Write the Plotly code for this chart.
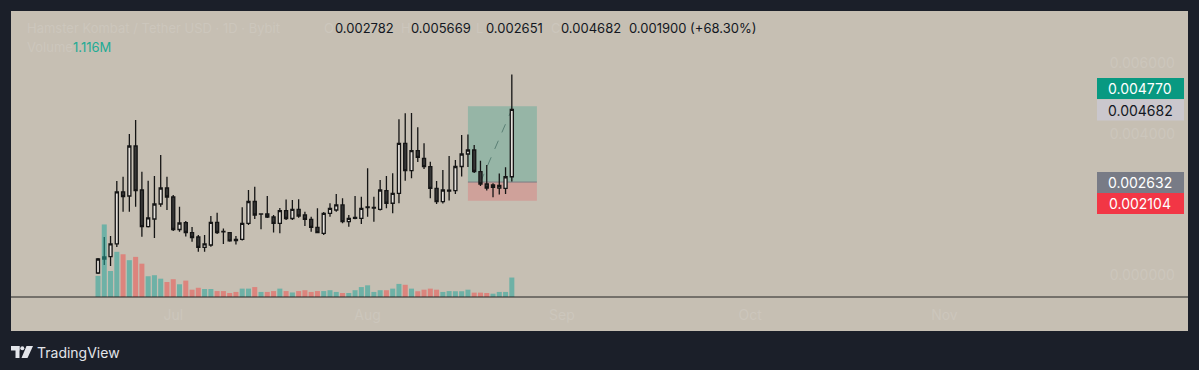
import pandas as pd
import plotly.graph_objects as go

# ---------------- data ----------------
dates = pd.date_range("2024-06-19", periods=67, freq="D")

open_ = [0.000065, 0.000460, 0.000525, 0.000884, 0.002352, 0.002239, 0.003650, 0.002408, 0.001372, 0.001589,
         0.002013, 0.002464, 0.002210, 0.001293, 0.001485, 0.001203, 0.001081, 0.000790, 0.000855, 0.001496,
         0.001236, 0.001203, 0.001011, 0.001016, 0.001468, 0.002083, 0.001730, 0.001730, 0.001646, 0.001468,
         0.001824, 0.001603, 0.001863, 0.001702, 0.001581, 0.001355, 0.001186, 0.001750, 0.001843, 0.001985,
         0.001513, 0.001609, 0.001609, 0.001914, 0.001900, 0.001863, 0.002388, 0.002033, 0.002315, 0.003726,
         0.002953, 0.003517, 0.003303, 0.003066, 0.002456, 0.002078, 0.002380, 0.002388, 0.003071, 0.003424,
         0.003537, 0.002925, 0.002577, 0.002479, 0.002464, 0.002456, 0.002782]
high = [0.000488, 0.001081, 0.001109, 0.002662, 0.002783, 0.003989, 0.004384, 0.002925, 0.002671, 0.002803,
        0.003396, 0.002783, 0.002267, 0.001937, 0.001533, 0.001364, 0.001138, 0.001138, 0.001674, 0.001767,
        0.001321, 0.001222, 0.001109, 0.001920, 0.002408, 0.002501, 0.001750, 0.002239, 0.001702, 0.001900,
        0.002140, 0.002126, 0.002145, 0.001795, 0.001654, 0.001891, 0.001787, 0.002033, 0.002295, 0.002174,
        0.001702, 0.002239, 0.002219, 0.003021, 0.002219, 0.002690, 0.002803, 0.002879, 0.004404, 0.004573,
        0.004582, 0.004178, 0.003726, 0.003207, 0.002662, 0.002973, 0.003368, 0.003255, 0.003961, 0.003975,
        0.003678, 0.003235, 0.003114, 0.002597, 0.002874, 0.003049, 0.005669]
low = [0.000037, 0.000291, 0.000263, 0.000799, 0.001795, 0.001795, 0.001937, 0.001090, 0.001349, 0.001053,
       0.001937, 0.001843, 0.001251, 0.001231, 0.001095, 0.000949, 0.000666, 0.000666, 0.000807, 0.001166,
       0.000884, 0.000949, 0.000869, 0.000982, 0.001420, 0.001589, 0.001299, 0.001618, 0.001208, 0.001186,
       0.001561, 0.001561, 0.001626, 0.001392, 0.001231, 0.001186, 0.001138, 0.001654, 0.001795, 0.001468,
       0.001372, 0.001581, 0.001448, 0.001654, 0.001513, 0.001829, 0.001891, 0.001750, 0.002033, 0.002671,
       0.002738, 0.003198, 0.003001, 0.002174, 0.002013, 0.002027, 0.002112, 0.002295, 0.002789, 0.003057,
       0.002888, 0.002521, 0.002394, 0.002202, 0.002281, 0.002295, 0.002651]
close = [0.000460, 0.000517, 0.000884, 0.002352, 0.002219, 0.003650, 0.002388, 0.001372, 0.001618, 0.002013,
         0.002464, 0.002210, 0.001293, 0.001476, 0.001208, 0.001067, 0.000790, 0.000884, 0.001496, 0.001208,
         0.001228, 0.000974, 0.000982, 0.001468, 0.002083, 0.001702, 0.001735, 0.001646, 0.001468, 0.001824,
         0.001603, 0.001863, 0.001674, 0.001581, 0.001355, 0.001203, 0.001750, 0.001891, 0.001985, 0.001513,
         0.001609, 0.001632, 0.001891, 0.001928, 0.001914, 0.002408, 0.002033, 0.002315, 0.003726, 0.002953,
         0.003517, 0.003331, 0.003066, 0.002456, 0.002078, 0.002408, 0.002400, 0.003071, 0.003424, 0.003537,
         0.002930, 0.002577, 0.002464, 0.002549, 0.002541, 0.002782, 0.004682]
volume_m = [1.21, 4.16, 1.49, 2.59, 2.45, 2.11, 2.30, 1.91, 1.19, 1.25,
            1.05, 0.86, 1.02, 0.73, 0.94, 0.42, 0.53, 0.46, 0.46, 0.34,
            0.34, 0.23, 0.29, 0.48, 0.48, 0.57, 0.29, 0.29, 0.34, 0.48,
            0.34, 0.26, 0.34, 0.39, 0.29, 0.34, 0.34, 0.39, 0.29, 0.23,
            0.23, 0.39, 0.57, 0.67, 0.29, 0.39, 0.39, 0.48, 0.75, 0.70,
            0.48, 0.33, 0.42, 0.48, 0.42, 0.29, 0.34, 0.33, 0.33, 0.42,
            0.25, 0.25, 0.23, 0.19, 0.29, 0.29, 1.116]

month_ticks = ["2024-07-01", "2024-08-01", "2024-09-01", "2024-10-01", "2024-11-01"]
month_labels = ["Jul", "Aug", "Sep", "Oct", "Nov"]
price_ticks = [0.0, 0.004, 0.006]
price_labels = ["0.000000", "0.004000", "0.006000"]

target_price = 0.004770
entry_price = 0.002632
stop_price = 0.002104
position_start_idx = 59
position_days = 11
entry_idx = 61

title_text = "Hamster Kombat / Tether USD · 1D · Bybit"
legend_values = ["0.002782", "0.005669", "0.002651", "0.004682", "0.001900 (+68.30%)"]
volume_label = "1.116M"

# ---------------- style ----------------
W, H = 1199, 370
PL, PR, PT, PB = 11, 1097, 11, 297
BG = "#c6bfb3"
FRAME = "#1b1f29"
FADED = "#ccc6bc"
FONT = "Inter, Roboto, sans-serif"


def px(x):
    return (x - PL) / (PR - PL)


def py(y):
    return (PB - y) / (PB - PT)


fig = go.Figure()

vol_colors = ["rgba(38,166,154,0.55)" if c >= o else "rgba(239,83,80,0.55)" for o, c in zip(open_, close)]
fig.add_trace(go.Bar(x=dates, y=volume_m, marker=dict(color=vol_colors, line=dict(width=0)),
                     yaxis="y2", showlegend=False, hoverinfo="skip"))

fig.add_trace(go.Candlestick(
    x=dates, open=open_, high=high, low=low, close=close,
    increasing=dict(line=dict(color="#151515", width=1.3), fillcolor="#e4e0db"),
    decreasing=dict(line=dict(color="#151515", width=1.3), fillcolor="#353535"),
    whiskerwidth=0, showlegend=False, yaxis="y"))

x_lo = dates[0] + pd.Timedelta(days=(PL - 98) / 6.27)
x_hi = dates[0] + pd.Timedelta(days=(PR - 98) / 6.27)

pos_x0 = dates[position_start_idx]
pos_x1 = dates[position_start_idx] + pd.Timedelta(days=position_days)

shapes = [
    dict(type="rect", xref="paper", yref="paper", x0=px(11), x1=px(1188), y0=py(331), y1=py(11),
         fillcolor=BG, line=dict(width=0), layer="below"),
    dict(type="rect", xref="x", yref="y", x0=pos_x0, x1=pos_x1, y0=entry_price, y1=target_price,
         fillcolor="rgba(8,153,129,0.25)", line=dict(width=0), layer="below"),
    dict(type="rect", xref="x", yref="y", x0=pos_x0, x1=pos_x1, y0=stop_price, y1=entry_price,
         fillcolor="rgba(242,54,69,0.22)", line=dict(width=0), layer="below"),
    dict(type="line", xref="x", yref="y", x0=pos_x0, x1=pos_x1, y0=entry_price, y1=entry_price,
         line=dict(color="#7c7c84", width=1), layer="below"),
    dict(type="line", xref="x", yref="y", x0=dates[entry_idx], x1=dates[-1], y0=entry_price, y1=close[-1],
         line=dict(color="rgba(70,110,100,0.75)", width=1, dash="dash"), layer="below"),
    dict(type="line", xref="paper", yref="paper", x0=px(11), x1=px(1188), y0=0, y1=0,
         line=dict(color="#222222", width=1), layer="above"),
]

annotations = []

# price tags on the right
tags = [
    (f"{target_price:.6f}", "#089981", "#ffffff", 88.5),
    (f"{close[-1]:.6f}", "#cac7cd", "#131722", 110),
    (f"{entry_price:.6f}", "#787b86", "#ffffff", 182.5),
    (f"{stop_price:.6f}", "#f23645", "#ffffff", 203.5),
]
for text, bg, fg, yc in tags:
    shapes.append(dict(type="rect", xref="paper", yref="paper", x0=px(1097), x1=px(1184),
                       y0=py(yc + 10.5), y1=py(yc - 10.5), fillcolor=bg, line=dict(width=0), layer="above"))
    annotations.append(dict(xref="paper", yref="paper", x=px(1140), y=py(yc), text=text, showarrow=False,
                            xanchor="center", yanchor="middle", borderpad=0,
                            font=dict(family=FONT, size=14, color=fg)))

# legend texts at the top
annotations.append(dict(xref="paper", yref="paper", x=px(25), y=py(28), text=title_text, showarrow=False,
                        xanchor="left", yanchor="middle", font=dict(family=FONT, size=13, color=FADED)))
annotations.append(dict(xref="paper", yref="paper", x=px(25), y=py(46.5), text="Volume", showarrow=False,
                        xanchor="left", yanchor="middle", font=dict(family=FONT, size=13, color=FADED)))
annotations.append(dict(xref="paper", yref="paper", x=px(71), y=py(46.5), text=volume_label, showarrow=False,
                        xanchor="left", yanchor="middle", font=dict(family=FONT, size=13, color="#22ab94")))
legend_x = [333, 409, 484, 559, 627]
prefix_x = [322, 399, 474, 549]
for lbl, xp in zip(["O", "H", "L", "C"], prefix_x):
    annotations.append(dict(xref="paper", yref="paper", x=px(xp), y=py(28), text=lbl, showarrow=False,
                            xanchor="left", yanchor="middle", font=dict(family=FONT, size=13, color=FADED)))
for val, xp in zip(legend_values, legend_x):
    annotations.append(dict(xref="paper", yref="paper", x=px(xp), y=py(28), text=val, showarrow=False,
                            xanchor="left", yanchor="middle", font=dict(family=FONT, size=13, color="#131722")))

# TradingView footer
annotations.append(dict(xref="paper", yref="paper", x=px(35), y=py(352), text="TradingView", showarrow=False,
                        xanchor="left", yanchor="middle", font=dict(family=FONT, size=14, color="#e3e5ea")))
shapes += [
    dict(type="rect", xref="paper", yref="paper", x0=px(11), x1=px(19.5), y0=py(350.5), y1=py(346),
         fillcolor="#e3e5ea", line=dict(width=0)),
    dict(type="rect", xref="paper", yref="paper", x0=px(15.5), x1=px(19.5), y0=py(358), y1=py(346),
         fillcolor="#e3e5ea", line=dict(width=0)),
    dict(type="circle", xref="paper", yref="paper", x0=px(20.3), x1=px(24.3), y0=py(350.3), y1=py(346.3),
         fillcolor="#e3e5ea", line=dict(width=0)),
    dict(type="path", xref="paper", yref="paper",
         path=f"M {px(26.5)} {py(346)} L {px(33)} {py(346)} L {px(27.5)} {py(358)} L {px(21.5)} {py(358)} Z",
         fillcolor="#e3e5ea", line=dict(width=0)),
]

fig.update_layout(
    width=W, height=H, autosize=False,
    margin=dict(l=PL, r=W - PR, t=PT, b=H - PB, pad=0),
    paper_bgcolor=FRAME, plot_bgcolor=BG,
    showlegend=False, bargap=0.2, boxgap=0.3,
    font=dict(family=FONT),
    xaxis=dict(type="date", range=[x_lo, x_hi], rangeslider=dict(visible=False),
               tickvals=month_ticks, ticktext=month_labels, showgrid=False, zeroline=False,
               ticks="outside", ticklen=5, tickcolor="rgba(0,0,0,0)",
               tickfont=dict(family=FONT, size=14, color=FADED), showline=False),
    yaxis=dict(range=[-0.000613, 0.007461], side="right", tickvals=price_ticks, ticktext=price_labels,
               showgrid=False, zeroline=False, ticks="outside", ticklen=9, tickcolor="rgba(0,0,0,0)",
               tickfont=dict(family=FONT, size=14, color=FADED), showline=False),
    yaxis2=dict(range=[0, 16.4], overlaying="y", visible=False, fixedrange=True),
    shapes=shapes, annotations=annotations,
)

fig.write_html("out.html", config={"displayModeBar": False},
               post_script="document.body.style.margin='0px';document.body.style.background='" + FRAME + "';")
